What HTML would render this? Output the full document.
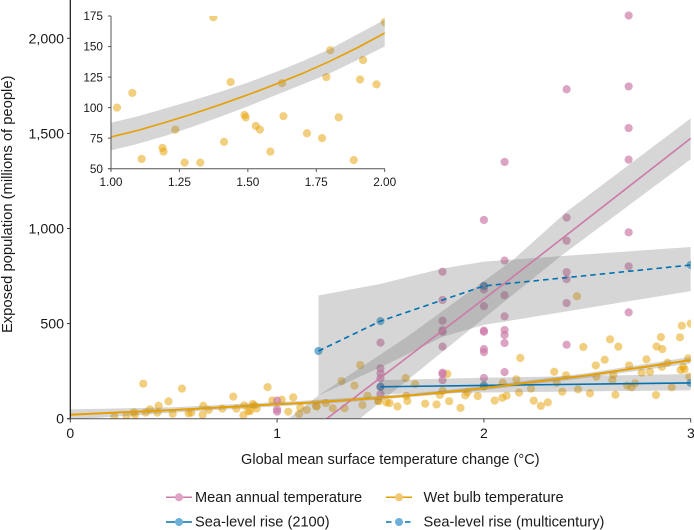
<!DOCTYPE html>
<html lang="en">
<head>
<meta charset="utf-8">
<title>Exposed population vs temperature change</title>
<style>
html,body{margin:0;padding:0;background:#fff;}
body{width:694px;height:530px;overflow:hidden;}
svg{display:block;font-family:"Liberation Sans",Arial,sans-serif;fill:#1a1a1a;}
</style>
</head>
<body>
<svg id="chart" width="694" height="530" viewBox="0 0 694 530" xmlns="http://www.w3.org/2000/svg">
  <defs>
    <clipPath id="main-clip"><rect x="70.3" y="0" width="620.6" height="418.7"/></clipPath>
    <clipPath id="inset-clip"><rect x="111" y="16" width="273.7" height="152.7"/></clipPath>
  </defs>
  <g id="main-marks" clip-path="url(#main-clip)"></g>
  <g id="main-axes"></g>
  <g id="inset-marks" clip-path="url(#inset-clip)"></g>
  <g id="inset-axes"></g>

  <text x="390.3" y="464" text-anchor="middle" font-size="14.55">Global mean surface temperature change (°C)</text>
  <text transform="translate(12,204.3) rotate(-90)" text-anchor="middle" font-size="14.75">Exposed population (millions of people)</text>

  <g font-size="14.6">
    <g>
      <line x1="166" x2="192" y1="497.3" y2="497.3" stroke="#cc79a7" stroke-width="1.5"/>
      <circle cx="179" cy="497.3" r="4" fill="#e0a3c6"/>
      <text x="195" y="501.8">Mean annual temperature</text>
    </g>
    <g>
      <line x1="386" x2="412" y1="497.3" y2="497.3" stroke="#e69f00" stroke-width="1.5"/>
      <circle cx="399" cy="497.3" r="4" fill="#f3c873"/>
      <text x="423.5" y="501.8">Wet bulb temperature</text>
    </g>
    <g>
      <line x1="166" x2="192" y1="522" y2="522" stroke="#0072b2" stroke-width="1.5"/>
      <circle cx="179" cy="522" r="4" fill="#6cb0d8"/>
      <text x="195" y="526.7">Sea-level rise (2100)</text>
    </g>
    <g>
      <line x1="386" x2="412" y1="522" y2="522" stroke="#0072b2" stroke-width="1.5" stroke-dasharray="5.5 4"/>
      <circle cx="399" cy="522" r="4" fill="#6cb0d8"/>
      <text x="423.5" y="526.7">Sea-level rise (multicentury)</text>
    </g>
  </g>
</svg>
<script>
const xTicks = [0, 1, 2, 3];
const yTicks = [0, 500, 1000, 1500, 2000];
const yTickLabels = ["0", "500", "1,000", "1,500", "2,000"];
const insetXTicks = [1, 1.25, 1.5, 1.75, 2];
const insetXLabels = ["1.00", "1.25", "1.50", "1.75", "2.00"];
const insetYTicks = [50, 75, 100, 125, 150, 175];

const wetX = [0.213,0.272,0.308,0.313,0.353,0.364,0.385,0.421,0.427,0.475,0.495,0.540,0.572,0.585,0.640,0.643,0.669,0.735,0.788,0.803,0.837,0.841,0.861,0.870,0.882,0.890,0.901,0.954,0.977,
  1.022,1.078,1.112,1.188,1.192,1.235,1.269,1.326,1.374,1.413,1.437,1.488,1.492,1.529,1.544,1.582,1.625,1.630,1.716,1.771,1.787,1.801,1.832,1.887,1.910,1.921,1.970,2.000,
  1.054,1.106,1.143,1.312,1.402,1.622,1.667,1.823,
  2.052,2.089,2.091,2.110,2.157,2.170,2.176,2.228,2.241,2.275,2.309,2.340,2.352,2.379,2.397,2.450,2.455,2.481,2.513,2.541,2.544,2.584,2.610,2.621,2.626,2.636,2.650,2.693,2.702,2.714,2.731,2.763,2.786,2.803,2.832,2.835,2.856,2.861,2.863,2.888,2.908,2.948,2.951,2.957,2.964,2.970,2.988,2.993,3.000];
const wetY = [10,14,33,21,184,32,49,32,68,91,26,158,28,32,21,68,46,53,116,53,18,70,39,41,77,70,54,166,96,
  100,112,58,67,64,82,55,55,174,72,121,94,92,85,82,64,120,93,79,75,125,147,92,57,123,139,119,170,
  37,25,46,198,282,214,182,235,
  95,110,189,121,207,137,319,158,95,67,86,247,189,142,228,644,154,377,133,280,221,310,417,203,230,126,379,174,280,165,186,242,312,247,124,380,429,273,366,294,165,428,256,489,273,259,317,221,500];

const meanX = [1,1,1, 1.5,1.5,1.5,1.5,1.5,1.5, 1.8,1.8,1.8,1.8,1.8,1.8,1.8,1.8,1.8, 2,2,2,2,2,2,2,2,2, 2.1,2.1,2.1,2.1,2.1,2.1,2.1,2.1, 2.4,2.4,2.4,2.4,2.4,2.4,2.4, 2.7,2.7,2.7,2.7,2.7,2.7,2.7];
const meanY = [95,49,37, 400,265,238,212,168,130, 773,624,515,465,457,379,242,235,203, 1045,698,680,592,463,457,366,350,214, 1350,831,649,538,466,440,398,245, 1732,1057,936,771,734,608,389, 2120,1747,1528,1362,980,801,559];

const slr2100X = [1.5, 2, 3];
const slr2100Y = [168, 175, 188];
const slr2100Upper = [203, 215, 235];
const slr2100Lower = [130, 138, 149];

const slrMultiX = [1.2, 1.5, 2, 3];
const slrMultiY = [356, 513, 698, 808];
const slrBandX = [1.2, 1.5, 1.8, 2, 3];
const slrBandUpper = [648, 709, 790, 826, 903];
const slrBandLower = [122, 270, 430, 493, 671];

const meanLineX = [1.24, 2.1, 2.4, 3];
const meanLineY = [0, 712, 966, 1474];
const meanUpperX = [1.054, 1.2, 1.62, 2.14, 2.4, 3];
const meanUpperY = [0, 122, 424, 834, 1088, 1579];
const meanLowerX = [1.4, 1.87, 2.367, 3];
const meanLowerY = [0, 414, 851, 1364];

const wetLineX = [0,0.5,1,1.1,1.2,1.3,1.4,1.5,1.6,1.7,1.8,1.9,2,2.5,3];
const wetLineY = [21,46,76,81.5,88,95,102.5,110.5,119,128,138,149,161,228,308];
const wetUpper = [49,60,87.6,93,99.5,106,113,120.5,129,138,148,160,172,240,325];
const wetLower = [-5,32,65,70.5,77,84.5,92.5,101,110,119,128,139,150,215,290];

const NS = "http://www.w3.org/2000/svg";
const mainX = v => 70.3 + 206.8 * v;
const mainY = v => 418.7 - 0.1902 * v;
const insX = v => 111 + 273.7 * (v - 1);
const insY = v => 168.7 - 1.2216 * (v - 50);

function make(tag, attrs, parent) {
  const el = document.createElementNS(NS, tag);
  for (const k in attrs) el.setAttribute(k, attrs[k]);
  parent.appendChild(el);
  return el;
}
function pts(xs, ys, fx, fy) {
  return xs.map((x, i) => fx(x).toFixed(2) + "," + fy(ys[i]).toFixed(2));
}
function drawPoints(parent, xs, ys, fx, fy, fill, opacity, name) {
  xs.forEach((x, i) => {
    const c = make("circle", {cx: fx(x), cy: fy(ys[i]), r: 4.1, fill: fill, "fill-opacity": opacity}, parent);
    
    
  });
}
function drawBand(parent, xu, yu, xl, yl, fx, fy, name) {
  const up = pts(xu, yu, fx, fy);
  const lo = pts(xl, yl, fx, fy).reverse();
  const p = make("polygon", {points: up.concat(lo).join(" "), fill: "#787878", "fill-opacity": 0.3}, parent);
  
  
}
function drawLine(parent, xs, ys, fx, fy, color, width, dash, name) {
  const attrs = {points: pts(xs, ys, fx, fy).join(" "), fill: "none", stroke: color, "stroke-width": width, "stroke-linejoin": "round"};
  if (dash) attrs["stroke-dasharray"] = dash;
  const l = make("polyline", attrs, parent);
  
  
}

const mm = document.getElementById("main-marks");
drawPoints(mm, wetX, wetY, mainX, mainY, "#e69f00", 0.5, "wet-bulb-point");
drawPoints(mm, meanX, meanY, mainX, mainY, "#cc79a7", 0.68, "mean-annual-point");
drawPoints(mm, slr2100X, slr2100Y, mainX, mainY, "#0072b2", 0.55, "sea-level-2100-point");
drawPoints(mm, slrMultiX, slrMultiY, mainX, mainY, "#0072b2", 0.55, "sea-level-multicentury-point");
drawBand(mm, slr2100X, slr2100Upper, slr2100X, slr2100Lower, mainX, mainY, "sea-level-2100-band");
drawBand(mm, slrBandX, slrBandUpper, slrBandX, slrBandLower, mainX, mainY, "sea-level-multicentury-band");
drawBand(mm, meanUpperX, meanUpperY, meanLowerX, meanLowerY, mainX, mainY, "mean-annual-band");
drawBand(mm, wetLineX, wetUpper, wetLineX, wetLower, mainX, mainY, "wet-bulb-band");
drawLine(mm, slr2100X, slr2100Y, mainX, mainY, "#0072b2", 1.6, null, "sea-level-2100-line");
drawLine(mm, slrMultiX, slrMultiY, mainX, mainY, "#0072b2", 1.6, "5.5 4", "sea-level-multicentury-line");
drawLine(mm, meanLineX, meanLineY, mainX, mainY, "#cc79a7", 1.6, null, "mean-annual-line");
drawLine(mm, wetLineX, wetLineY, mainX, mainY, "#e69f00", 2, null, "wet-bulb-line");

const ma = document.getElementById("main-axes");
const yAxisLine = make("line", {x1: 70.3, x2: 70.3, y1: 0, y2: 419, stroke: "#111", "stroke-width": 1.2}, ma);


const xAxisLine = make("line", {x1: 67, x2: 691, y1: 418.7, y2: 418.7, stroke: "#555", "stroke-width": 1}, ma);


xTicks.forEach(v => {
  const t = make("line", {x1: mainX(v), x2: mainX(v), y1: 418.7, y2: 422.5, stroke: "#444", "stroke-width": 1}, ma);
  
  
  const l = make("text", {x: v === 3 ? 687 : mainX(v), y: 438, "text-anchor": v === 3 ? "start" : "middle", "font-size": 14}, ma);
  l.textContent = v;
  
  
});
yTicks.forEach((v, i) => {
  const t = make("line", {x1: 67, x2: 70.3, y1: mainY(v), y2: mainY(v), stroke: "#333", "stroke-width": 1}, ma);
  
  
  const l = make("text", {x: 64, y: mainY(v) + 5, "text-anchor": "end", "font-size": 14.2}, ma);
  l.textContent = yTickLabels[i];
  
  
});

const im = document.getElementById("inset-marks");
drawPoints(im, wetX, wetY, insX, insY, "#e69f00", 0.5, "inset-wet-bulb-point");
drawBand(im, wetLineX, wetUpper, wetLineX, wetLower, insX, insY, "inset-wet-bulb-band");
drawLine(im, wetLineX, wetLineY, insX, insY, "#e69f00", 1.6, null, "inset-wet-bulb-line");

const ia = document.getElementById("inset-axes");
const insYLine = make("line", {x1: 111, x2: 111, y1: 16, y2: 169, stroke: "#555", "stroke-width": 1}, ia);


const insXLine = make("line", {x1: 108, x2: 385, y1: 168.7, y2: 168.7, stroke: "#555", "stroke-width": 1}, ia);


insetXTicks.forEach((v, i) => {
  const t = make("line", {x1: insX(v), x2: insX(v), y1: 168.7, y2: 172, stroke: "#555", "stroke-width": 1}, ia);
  
  
  const l = make("text", {x: insX(v), y: 186, "text-anchor": "middle", "font-size": 11.8}, ia);
  l.textContent = insetXLabels[i];
  
  
});
insetYTicks.forEach(v => {
  const t = make("line", {x1: 108, x2: 111, y1: insY(v), y2: insY(v), stroke: "#555", "stroke-width": 1}, ia);
  
  
  const l = make("text", {x: 103, y: insY(v) + 4.2, "text-anchor": "end", "font-size": 11.8}, ia);
  l.textContent = v;
  
  
});
</script>
</body>
</html>
